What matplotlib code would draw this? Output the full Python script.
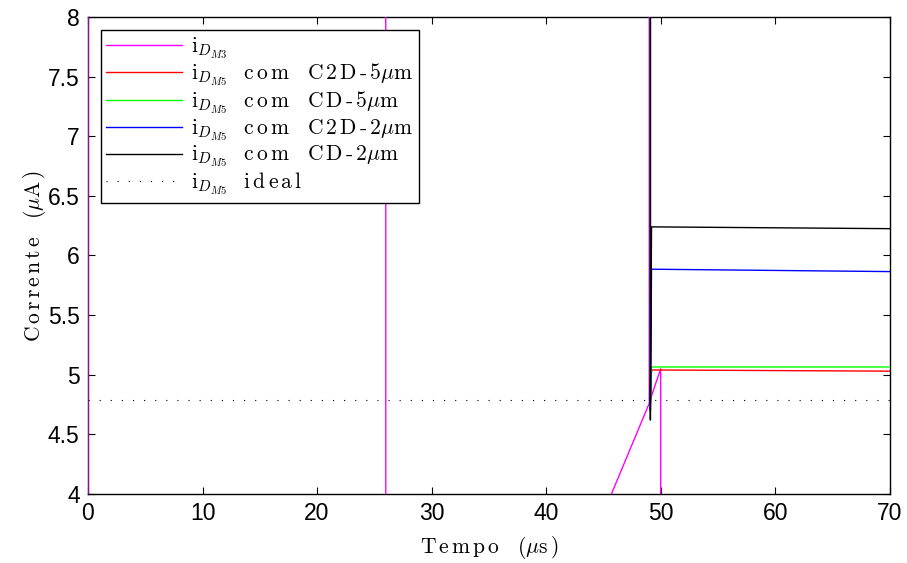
import numpy as np
import matplotlib
matplotlib.use('Agg')
import matplotlib.pyplot as plt

plt.rcParams['mathtext.fontset'] = 'cm'
plt.rcParams['axes.unicode_minus'] = False

# tempo em us, corrente em uA (valores fora de [4, 8] ficam cortados)
t_m3 = [0.0, 0.0, 26.0, 26.0, 45.7, 49.0, 49.0, 49.05, 49.05, 50.0, 50.0, 70.0]
i_m3 = [3.0, 9.0, 9.0, 3.0, 4.0, 4.76, 9.0, 9.0, 4.78, 5.05, 3.0, 3.0]

t_c2d5 = [0.0, 49.1, 49.1, 49.2, 70.0]
i_c2d5 = [9.0, 9.0, 4.75, 5.04, 5.03]

t_cd5 = [0.0, 49.1, 49.1, 49.2, 70.0]
i_cd5 = [9.0, 9.0, 4.75, 5.065, 5.065]

t_c2d2 = [0.0, 49.1, 49.1, 49.2, 70.0]
i_c2d2 = [9.0, 9.0, 4.70, 5.885, 5.865]

t_cd2 = [0.0, 49.1, 49.1, 49.2, 70.0]
i_cd2 = [9.0, 9.0, 4.62, 6.24, 6.225]

t_ideal = [0.0, 70.0]
i_ideal = [4.79, 4.79]

legendas = [r'i$_{D_{M3}}$',
            r'i$_{D_{M5}}$ com C2D-5$\mu$m',
            r'i$_{D_{M5}}$ com CD-5$\mu$m',
            r'i$_{D_{M5}}$ com C2D-2$\mu$m',
            r'i$_{D_{M5}}$ com CD-2$\mu$m',
            r'i$_{D_{M5}}$ ideal']


def espaca(s):
    '''afasta as letras do texto (fora das partes $...$), como no latex do matlab'''
    partes = s.split('$')
    for k in range(0, len(partes), 2):
        partes[k] = r'$\,$'.join(partes[k]).replace(' ', r'$\;$ ')
    return '$'.join(partes)


fig = plt.figure(figsize=(9.07, 5.63), dpi=100)
ax = fig.add_axes([0.097, 0.1226, 0.884, 0.8472])

lw = 1.0
ax.plot(t_m3, i_m3, color='#ff00ff', lw=lw, label=espaca(legendas[0]))
ax.plot(t_c2d5, i_c2d5, color='#ff0000', lw=lw, label=espaca(legendas[1]))
ax.plot(t_cd5, i_cd5, color='#00ff00', lw=lw, label=espaca(legendas[2]))
ax.plot(t_c2d2, i_c2d2, color='#0000ff', lw=lw, label=espaca(legendas[3]))
ax.plot(t_cd2, i_cd2, color='k', lw=lw, label=espaca(legendas[4]))
ax.plot(t_ideal, i_ideal, color='k', lw=0.8, linestyle=(0, (1, 9)),
        label=espaca(legendas[5]))

ax.set_xlim(0, 70)
ax.set_ylim(4, 8)
ax.set_xticks(np.arange(0, 71, 10))
ax.set_yticks(np.arange(4, 8.01, 0.5))
ax.set_yticklabels(['4', '4.5', '5', '5.5', '6', '6.5', '7', '7.5', '8'])
ax.tick_params(direction='in', length=5, width=0.8, top=True, right=True,
               labelsize=16.5, pad=6)
for lab in ax.get_xticklabels() + ax.get_yticklabels():
    lab.set_fontfamily('Liberation Sans')
for s in ax.spines.values():
    s.set_linewidth(1.0)
    s.set_zorder(1.5)

ax.set_xlabel(espaca(r'Tempo ($\mu$s)'), family='cmr10', fontsize=15.5, labelpad=6)
ax.set_ylabel(espaca(r'Corrente ($\mu$A)'), family='cmr10', fontsize=15.5, labelpad=0)

leg = ax.legend(loc='upper left', prop={'family': 'cmr10', 'size': 15.5},
                fancybox=False, framealpha=1, edgecolor='k',
                handlelength=3.5, handletextpad=0.45, labelspacing=0.07,
                borderpad=0.25, borderaxespad=0.6)
leg.get_frame().set_linewidth(1.0)

plt.savefig('out.png', dpi=100)
